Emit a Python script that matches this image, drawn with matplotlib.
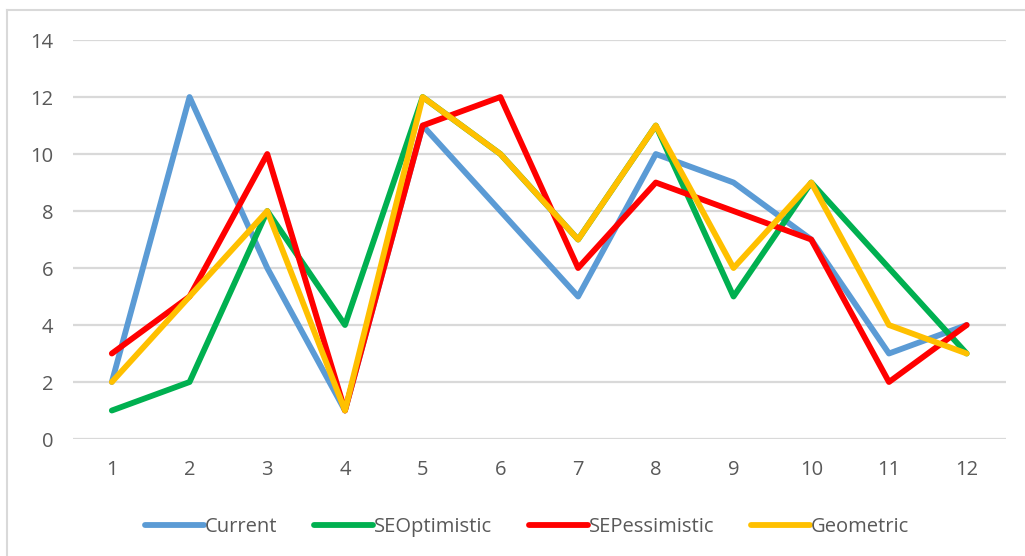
import matplotlib.pyplot as plt
from matplotlib.lines import Line2D

# ---------------- Data ----------------
periods = [1, 2, 3, 4, 5, 6, 7, 8, 9, 10, 11, 12]
current = [2, 12, 6, 1, 11, 8, 5, 10, 9, 7, 3, 4]
se_optimistic = [1, 2, 8, 4, 12, 10, 7, 11, 5, 9, 6, 3]
se_pessimistic = [3, 5, 10, 1, 11, 12, 6, 9, 8, 7, 2, 4]
geometric = [2, 5, 8, 1, 12, 10, 7, 11, 6, 9, 4, 3]

series_names = ["Current", "SEOptimistic", "SEPessimistic", "Geometric"]
series_colors = ["#5B9BD5", "#00B050", "#FF0000", "#FFC000"]
y_ticks = [0, 2, 4, 6, 8, 10, 12, 14]

plt.rcParams['font.family'] = ['Open Sans', 'DejaVu Sans']
text_color = "#595959"

fig = plt.figure(figsize=(10.25, 5.56), dpi=100)
ax = fig.add_axes([0.0712, 0.2104, 0.9098, 0.7176])

for vals, name, col in zip([current, se_optimistic, se_pessimistic, geometric],
                           series_names, series_colors):
    ax.plot(periods, vals, color=col, lw=4.2, label=name,
            solid_joinstyle='round', solid_capstyle='round')

ax.set_xlim(0.5, 12.5)
ax.set_ylim(0, 14)
ax.set_yticks(y_ticks)
ax.set_xticks(periods)
ax.yaxis.grid(True, color="#D9D9D9", lw=1.6)
ax.set_axisbelow(True)
for s in ax.spines.values():
    s.set_visible(False)
ax.tick_params(length=0, labelsize=14.5, colors=text_color)
ax.tick_params(axis='y', pad=14)
ax.tick_params(axis='x', pad=15)

leg = ax.legend(loc='upper center', bbox_to_anchor=(0.487, -0.15), ncol=4,
                frameon=False, fontsize=14.5, handlelength=2.9, handletextpad=0.05,
                columnspacing=1.85)
for t in leg.get_texts():
    t.set_color(text_color)

# outer chart frame
fig.add_artist(Line2D([7 / 1025, 1.0], [1 - 10 / 556, 1 - 10 / 556],
                      transform=fig.transFigure, color="#D9D9D9", lw=1.5))
fig.add_artist(Line2D([7 / 1025, 7 / 1025], [0.0, 1 - 10 / 556],
                      transform=fig.transFigure, color="#D9D9D9", lw=1.5))

fig.savefig("out.png", dpi=100)
